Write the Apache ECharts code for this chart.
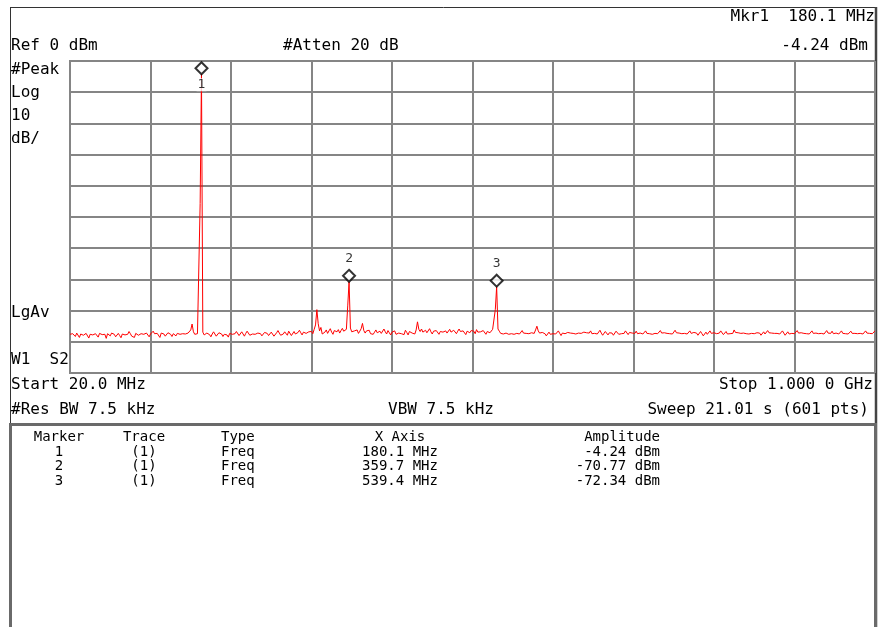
<!DOCTYPE html>
<html>
<head>
<meta charset="utf-8">
<script src="https://cdn.jsdelivr.net/npm/echarts@6/dist/echarts.min.js"></script>
<style>
  html, body { margin: 0; padding: 0; background: #fff; }
  #chart { width: 881px; height: 627px; }
</style>
</head>
<body>
<div id="chart"></div>
<script>
// sweep settings
const startMHz = 20.0
const stopMHz = 1000.0
const sweepPoints = 601
const refLevel = 0      // dBm, top of the grid
const dbPerDiv = 10

// trace 1, one level per sweep point, dBm
const traceLevels = [
  -87.6, -88.1, -87.4, -87.9, -88.3, -87.2, -87.8, -88.6, -87.5, -87.1, -87.9, -88.4, -87.3, -87.7, -88.8, -87.6, -87.0, -87.8, -88.2, -87.4,
  -87.9, -88.5, -87.3, -86.9, -87.7, -88.3, -87.6, -88.9, -87.4, -87.8, -88.1, -87.2, -86.8, -87.6, -88.4, -87.9, -87.3, -88.0, -88.7, -87.5,
  -87.1, -87.8, -88.3, -87.6, -86.7, -87.4, -88.2, -87.7, -88.6, -87.3, -87.0, -87.9, -88.5, -87.4, -86.9, -87.6, -88.1, -87.2, -87.8, -88.4,
  -87.5, -87.0, -86.6, -87.4, -88.0, -87.3, -87.9, -88.6, -87.2, -86.8, -87.5, -88.2, -87.7, -87.1, -86.5, -87.6, -88.3, -87.4, -87.9, -88.1,
  -87.3, -86.9, -87.6, -88.2, -87.4, -86.8, -87.5, -88.0, -87.2, -86.7, -86.2, -84.3, -86.8, -87.6, -88.1, -87.4, -87.0, -45.7, -4.24, -86.9,
  -87.8, -88.3, -87.2, -86.9, -87.7, -88.4, -87.5, -86.8, -87.4, -88.2, -87.9, -87.1, -86.6, -87.5, -88.3, -87.6, -87.0, -87.8, -88.5, -87.3,
  -86.9, -87.6, -88.1, -87.4, -86.7, -87.3, -88.0, -87.7, -86.8, -87.5, -88.2, -87.3, -86.6, -87.2, -87.9, -88.4, -87.5, -86.9, -87.6, -88.0,
  -87.2, -86.6, -87.4, -88.1, -87.8, -87.0, -86.5, -87.3, -88.0, -87.6, -86.9, -87.4, -88.2, -87.7, -87.1, -86.4, -87.2, -87.9, -88.3, -87.5,
  -86.8, -87.3, -87.9, -86.6, -87.2, -88.0, -87.4, -86.7, -87.5, -88.1, -87.0, -86.3, -87.1, -87.8, -86.9, -86.4, -87.3, -87.9, -86.8, -86.2,
  -86.7, -87.4, -86.0, -84.6, -79.7, -84.2, -86.5, -85.4, -87.5, -88.1, -86.9, -86.2, -87.3, -86.5, -85.8, -86.9, -87.6, -86.4, -85.9, -86.8,
  -86.1, -87.2, -86.4, -85.7, -86.6, -87.1, -86.0, -78.5, -70.77, -85.6, -86.8, -87.4, -86.5, -87.0, -86.2, -87.3, -86.6, -85.8, -84.1, -86.4,
  -87.2, -86.5, -87.0, -86.3, -87.4, -86.8, -87.6, -86.9, -86.2, -87.1, -87.7, -86.6, -87.3, -86.7, -85.9, -86.8, -87.5, -86.4, -87.1, -87.8,
  -86.9, -87.3, -86.5, -87.6, -88.0, -87.2, -86.6, -87.4, -86.9, -87.7, -86.3, -87.0, -87.8, -86.7, -86.1, -87.2, -86.8, -87.5, -86.2, -83.6,
  -86.0, -86.7, -85.9, -86.9, -87.4, -86.3, -87.1, -86.5, -85.8, -86.8, -87.5, -86.6, -87.2, -86.4, -87.0, -87.6, -86.7, -86.1, -86.9, -87.3,
  -86.5, -87.2, -86.8, -86.0, -86.9, -87.5, -86.3, -86.8, -87.4, -86.6, -85.9, -86.7, -87.3, -86.5, -87.0, -87.7, -86.6, -86.2, -87.1, -86.4,
  -87.0, -86.6, -87.4, -86.1, -86.9, -87.5, -86.8, -87.2, -86.4, -87.0, -87.6, -86.7, -86.3, -87.1, -86.8, -86.0, -86.5, -79.7, -72.34, -85.9,
  -86.6, -87.3, -86.8, -87.5, -87.9, -87.2, -86.7, -87.6, -88.1, -87.4, -86.9, -87.6, -88.2, -87.3, -86.8, -87.5, -87.1, -86.4, -87.2, -87.8,
  -87.3, -86.7, -87.4, -88.0, -87.1, -86.6, -87.3, -86.2, -85.0, -86.5, -87.2, -87.8, -87.0, -86.6, -87.4, -88.1, -87.5, -86.9, -87.6, -88.2,
  -87.4, -86.8, -87.5, -87.1, -86.5, -87.3, -88.0, -87.2, -86.6, -87.4, -87.9, -87.0, -86.4, -87.2, -87.8, -87.3, -86.7, -87.5, -88.1, -87.2,
  -86.6, -87.3, -87.8, -86.9, -86.3, -87.1, -87.7, -87.2, -86.5, -87.4, -88.0, -87.3, -86.8, -87.5, -87.0, -86.3, -87.2, -87.9, -87.4, -86.7,
  -87.3, -87.8, -87.1, -86.5, -87.2, -87.9, -87.3, -86.6, -87.0, -87.6, -88.1, -87.4, -86.8, -87.3, -86.5, -87.1, -87.7, -87.0, -86.4, -87.2,
  -87.8, -87.3, -86.6, -87.4, -88.0, -87.2, -86.7, -87.5, -87.1, -86.5, -87.3, -87.9, -87.4, -86.8, -87.6, -88.1, -87.3, -86.7, -87.4, -87.0,
  -86.4, -87.2, -87.8, -87.1, -86.6, -87.3, -87.9, -87.4, -86.8, -87.5, -86.9, -86.3, -87.1, -87.7, -87.2, -86.6, -87.4, -88.0, -87.3, -86.7,
  -87.5, -87.1, -86.5, -87.3, -87.8, -87.0, -86.4, -87.2, -87.9, -87.3, -86.7, -87.4, -88.1, -87.5, -86.9, -87.6, -87.2, -86.5, -87.3, -87.8,
  -87.1, -86.6, -87.4, -87.9, -87.2, -86.5, -87.1, -87.7, -87.3, -86.7, -87.5, -88.0, -87.4, -86.8, -87.3, -86.2, -87.0, -87.6, -87.1, -86.6,
  -87.3, -87.9, -87.2, -86.6, -87.4, -88.0, -87.5, -86.9, -87.3, -86.7, -87.4, -87.8, -87.1, -86.5, -87.2, -87.9, -87.4, -86.8, -87.5, -87.0,
  -86.4, -87.1, -87.7, -87.2, -86.6, -87.3, -87.8, -87.3, -86.7, -87.5, -87.1, -86.5, -87.2, -87.9, -87.4, -86.8, -87.5, -88.0, -87.3, -86.7,
  -87.4, -87.0, -86.4, -87.2, -87.8, -87.1, -86.5, -87.3, -87.9, -87.4, -86.8, -87.5, -87.1, -86.5, -87.3, -87.8, -87.2, -86.6, -87.4, -88.0,
  -87.3, -86.7, -87.5, -87.0, -86.4, -87.2, -87.8, -87.3, -86.6, -87.4, -87.9, -87.2, -86.7, -87.5, -87.1, -86.5, -87.3, -87.8, -87.4, -86.8,
  -87.5, -87.1, -86.6, -87.3, -87.9, -87.3, -86.7, -87.4, -88.0, -87.3, -86.8, -87.5, -87.0, -86.5, -87.2, -87.8, -87.3, -86.7, -87.4, -87.1,
  -86.5
]

// markers: number, trace, type, frequency (MHz), amplitude (dBm)
const markerNums = ['1', '2', '3']
const markerTraces = ['(1)', '(1)', '(1)']
const markerTypes = ['Freq', 'Freq', 'Freq']
const markerFreqs = [180.1, 359.7, 539.4]
const markerAmps = [-4.24, -70.77, -72.34]

// annotation texts
const leftNotes = ['#Peak', 'Log', '10', 'dB/']
const tableHead = ['Marker', 'Trace', 'Type', 'X Axis', 'Amplitude']

const FONT = '"DejaVu Sans Mono", "Liberation Mono", monospace'
const GRID_COLOR = '#858585'

const step = (stopMHz - startMHz) / (sweepPoints - 1)
const traceData = traceLevels.map((v, i) => [startMHz + i * step, v])

const markerData = markerFreqs.map((f, i) => ({
  value: [f, markerAmps[i]],
  label: i === 0
    ? { position: 'bottom', distance: 3, backgroundColor: '#fff', padding: [0, 1] }
    : { position: 'top', distance: 4 }
}))

function txt (x, y, text, align = 'left', size = 16) {
  return {
    type: 'text',
    x,
    y,
    silent: true,
    style: {
      text,
      font: size + 'px ' + FONT,
      fill: '#000',
      textAlign: align,
      textVerticalAlign: 'middle'
    }
  }
}

function line (x1, y1, x2, y2, width, color) {
  return {
    type: 'line',
    silent: true,
    shape: { x1, y1, x2, y2 },
    style: { stroke: color, lineWidth: width }
  }
}

const fmtMHz = f => f.toFixed(1) + ' MHz'
const fmtAmp = a => a.toFixed(2) + ' dBm'

// screen annotations and frame
const graphics = [
  line(10, 7.5, 877, 7.5, 1, '#333'),
  line(10.5, 7, 10.5, 424, 1, '#333'),
  line(876, 7, 876, 627, 2.5, '#444'),
  {
    type: 'rect',
    silent: true,
    shape: { x: 10.5, y: 424.5, width: 865, height: 220 },
    style: { fill: null, stroke: '#6a6a6a', lineWidth: 3 }
  },
  txt(875, 17, 'Mkr' + markerNums[0] + '  ' + fmtMHz(markerFreqs[0]), 'right'),
  txt(868, 46, fmtAmp(markerAmps[0]), 'right'),
  txt(11, 46, 'Ref ' + refLevel + ' dBm'),
  txt(283, 46, '#Atten 20 dB'),
  txt(11, 313, 'LgAv'),
  txt(11, 360, 'W1  S2'),
  txt(11, 385, 'Start ' + startMHz.toFixed(1) + ' MHz'),
  txt(873, 385, 'Stop 1.000 0 GHz', 'right'),
  txt(11, 410, '#Res BW 7.5 kHz'),
  txt(388, 410, 'VBW 7.5 kHz'),
  txt(869, 410, 'Sweep 21.01 s (' + sweepPoints + ' pts)', 'right')
]
leftNotes.forEach((t, i) => graphics.push(txt(11, 70 + i * 23, t)))

// marker table
const colX = [59, 144, 221, 400, 660]
const colAlign = ['center', 'center', 'left', 'center', 'right']
tableHead.forEach((h, c) => graphics.push(txt(colX[c], 437, h, colAlign[c], 14)))
markerNums.forEach((n, i) => {
  const row = [n, markerTraces[i], markerTypes[i], fmtMHz(markerFreqs[i]), fmtAmp(markerAmps[i])]
  row.forEach((t, c) => graphics.push(txt(colX[c], 452 + i * 14.5, t, colAlign[c], 14)))
})

const chart = echarts.init(document.getElementById('chart'), null, { renderer: 'canvas' })

chart.setOption({
  animation: false,
  backgroundColor: '#fff',
  grid: {
    left: 70,
    top: 61,
    width: 805,
    height: 312,
    show: true,
    borderColor: GRID_COLOR,
    borderWidth: 2,
    backgroundColor: 'transparent'
  },
  xAxis: [
    // frequency axis that carries the trace
    { type: 'value', min: startMHz, max: stopMHz, show: false },
    // 10 horizontal divisions of the graticule
    {
      type: 'value',
      min: 0,
      max: 10,
      interval: 1,
      axisLine: { show: false },
      axisTick: { show: false },
      axisLabel: { show: false },
      splitLine: { show: true, lineStyle: { color: GRID_COLOR, width: 2 } }
    }
  ],
  yAxis: {
    type: 'value',
    min: refLevel - 10 * dbPerDiv,
    max: refLevel,
    interval: dbPerDiv,
    axisLine: { show: false },
    axisTick: { show: false },
    axisLabel: { show: false },
    splitLine: { show: true, lineStyle: { color: GRID_COLOR, width: 2 } }
  },
  series: [
    {
      name: 'Trace 1',
      type: 'line',
      xAxisIndex: 0,
      data: traceData,
      symbol: 'none',
      lineStyle: { color: '#ff0000', width: 1 },
      z: 3
    },
    {
      name: 'Markers',
      type: 'scatter',
      xAxisIndex: 0,
      data: markerData,
      symbol: 'diamond',
      symbolSize: [12, 12],
      symbolOffset: [0, -6],
      itemStyle: { color: '#fff', borderColor: '#000', borderWidth: 2 },
      label: {
        show: true,
        formatter: p => markerNums[p.dataIndex],
        fontFamily: FONT,
        fontSize: 13,
        color: '#000'
      },
      z: 4
    }
  ],
  graphic: graphics
})
</script>
</body>
</html>
